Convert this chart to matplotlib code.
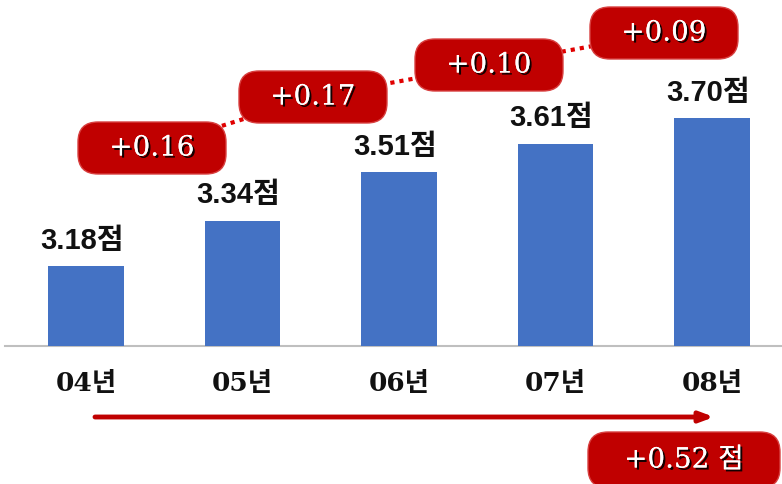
import matplotlib

matplotlib.use("Agg")
import matplotlib.patheffects as pe
import matplotlib.pyplot as plt
from matplotlib.patches import FancyBboxPatch

# data
years = ["04년", "05년", "06년", "07년", "08년"]
scores = [3.18, 3.34, 3.51, 3.61, 3.70]
score_labels = ["3.18점", "3.34점", "3.51점", "3.61점", "3.70점"]
diff_labels = ["+0.16", "+0.17", "+0.10", "+0.09"]
total_label = "+0.52 점"

# layout: figure is 782x485 px, axes fill the whole figure
W, H = 782, 485
X0, XSTEP = 86, 156.5          # px of first bar centre, px per category
Y_BASE, Y_UNIT = 347, 284.6     # px of baseline, px per score point
BASE = 2.9

RED = "#C00000"
BLUE = "#4472C4"
KR_SANS = ["Liberation Sans", "Noto Sans CJK KR"]
KR_SERIF = ["DejaVu Serif", "Noto Sans CJK KR"]


def px(x, y):
    """pixel (from top-left) -> data coords"""
    return (x - X0) / XSTEP, BASE + (Y_BASE - y) / Y_UNIT


fig = plt.figure(figsize=(W / 100, H / 100), dpi=100)
ax = fig.add_axes([0, 0, 1, 1])
ax.set_xlim(px(0, 0)[0], px(W, 0)[0])
ax.set_ylim(px(0, H)[1], px(0, 0)[1])
ax.axis("off")

xs = list(range(len(years)))
heights = [s - BASE for s in scores]
ax.bar(xs, heights, bottom=BASE, width=0.48, color=BLUE, zorder=2)
ax.plot([px(5, 0)[0], px(W, 0)[0]], [BASE, BASE], color="#BFBFBF", lw=1.5, zorder=1)

for x, s, lab in zip(xs, scores, score_labels):
    ax.annotate(lab, (x, s), xytext=(-3, 9), textcoords="offset points",
                ha="center", va="bottom", fontsize=21, fontweight="bold",
                family=KR_SANS, color="#111111")

for x, lab in zip(xs, years):
    ax.text(x, px(0, 384)[1], lab, ha="center", va="center", fontsize=19,
            fontweight="bold", family=KR_SERIF, color="#111111")

# red arrow under the years
a0 = px(95, 418)
a1 = px(714, 418)
ax.annotate("", xy=a1, xytext=a0,
            arrowprops=dict(arrowstyle="-|>,head_length=0.8,head_width=0.3",
                            color=RED, lw=3.5, shrinkA=0, shrinkB=0))

shadow = [pe.withSimplePatchShadow(offset=(1.5, -1.5), shadow_rgbFace="black", alpha=0.9),
          pe.Normal()]


def red_box(cx, cy, w, h, text):
    x0, y0 = px(cx - w / 2, cy + h / 2)
    x1, y1 = px(cx + w / 2, cy - h / 2)
    box = FancyBboxPatch((x0, y0), x1 - x0, y1 - y0,
                         boxstyle="round,pad=0,rounding_size=%f" % (20 / XSTEP),
                         mutation_aspect=XSTEP / Y_UNIT,
                         facecolor=RED, edgecolor="#D84040", lw=1.0, zorder=4)
    ax.add_patch(box)
    tx, ty = px(cx, cy)
    ax.text(tx, ty, text, ha="center", va="center", fontsize=20, color="white",
            family=KR_SERIF, zorder=5, path_effects=shadow)


# change boxes joined by a dotted line
centres = [(152, 149), (313, 98), (489, 66), (664, 34)]
cx_d = [px(c[0], c[1])[0] for c in centres]
cy_d = [px(c[0], c[1])[1] for c in centres]
ax.plot(cx_d, cy_d, color="#E00000", lw=3, ls=(0, (1, 1.2)), zorder=3)
for (cx, cy), lab in zip(centres, diff_labels):
    red_box(cx, cy, 148, 52, lab)

red_box(684, 461, 192, 56, total_label)

fig.savefig("out.png", dpi=100, facecolor="white")
